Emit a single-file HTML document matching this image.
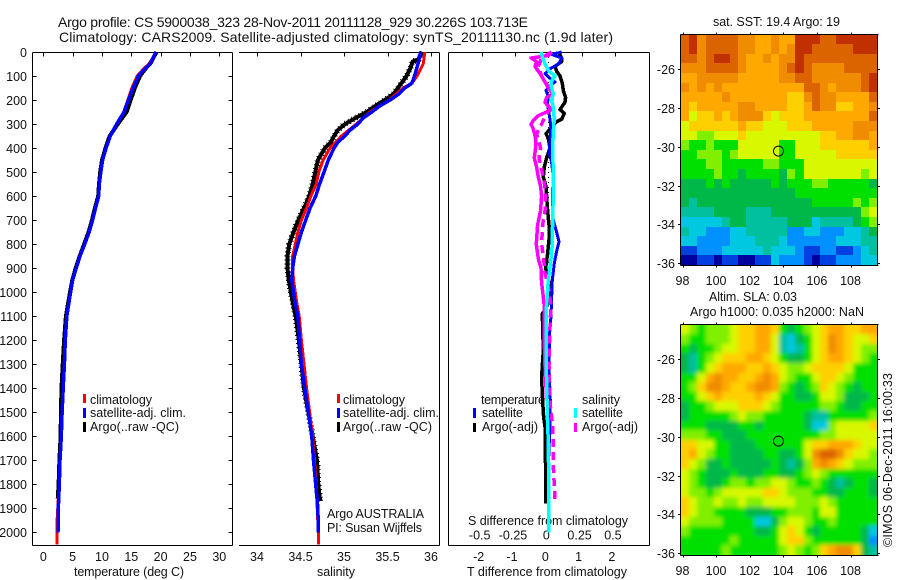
<!DOCTYPE html>
<html>
<head>
<meta charset="utf-8">
<title>Argo profile</title>
<style>
html,body{margin:0;padding:0;background:#fff;}
svg{display:block;}
text{font-family:"Liberation Sans",sans-serif;font-size:12.5px;fill:#111;}
</style>
</head>
<body>
<svg id="fig" xmlns="http://www.w3.org/2000/svg" width="900" height="580" viewBox="0 0 900 580">
<defs>
<filter id="smooth" filterUnits="userSpaceOnUse" x="660" y="300" width="240" height="280"><feGaussianBlur stdDeviation="2.2"/></filter>
<clipPath id="clip-sst"><rect x="681" y="35" width="196" height="230"/></clipPath>
<clipPath id="clip-sla"><rect x="681" y="325" width="196" height="230"/></clipPath>
</defs>
<rect x="0" y="0" width="900" height="580" fill="#fff"/>
<text x="58" y="27" font-size="14" style="font-size:14px" textLength="470">Argo profile: CS 5900038_323 28-Nov-2011 20111128_929 30.226S 103.713E</text>
<text x="59" y="42" style="font-size:14px" textLength="554">Climatology: CARS2009. Satellite-adjusted climatology: synTS_20111130.nc (1.9d later)</text>

<g>
<rect x="83" y="394" width="3" height="9" fill="#ff0000"/>
<rect x="83" y="408" width="3" height="10" fill="#0000ff"/>
<rect x="83" y="422" width="3" height="10" fill="#000"/>
<text x="90" y="404" textLength="62">climatology</text>
<text x="90" y="417" textLength="96">satellite-adj. clim.</text>
<text x="90" y="431" textLength="89">Argo(..raw -QC)</text>
</g>
<g>
<rect x="337" y="394" width="3" height="9" fill="#ff0000"/>
<rect x="337" y="408" width="3" height="10" fill="#0000ff"/>
<rect x="337" y="422" width="3" height="10" fill="#000"/>
<text x="343" y="404" textLength="62">climatology</text>
<text x="343" y="417" textLength="96">satellite-adj. clim.</text>
<text x="343" y="431" textLength="89">Argo(..raw -QC)</text>
<text x="327" y="518" textLength="97">Argo AUSTRALIA</text>
<text x="327" y="532" textLength="95">PI: Susan Wijffels</text>
</g>
<g>
<text x="481" y="404" textLength="64">temperature</text>
<rect x="473" y="408" width="3" height="10" fill="#0000ff"/>
<rect x="473" y="423" width="3" height="9" fill="#000"/>
<text x="482" y="417" textLength="41">satellite</text>
<text x="482" y="431" textLength="56">Argo(-adj)</text>
<text x="582" y="404" textLength="38">salinity</text>
<rect x="574" y="408" width="3" height="10" fill="#00ffff"/>
<rect x="574" y="423" width="3" height="9" fill="#ff00ff"/>
<text x="582" y="417" textLength="41">satellite</text>
<text x="582" y="431" textLength="56">Argo(-adj)</text>
<text x="468" y="525" textLength="160">S difference from climatology</text>
</g>
<text x="74" y="576" textLength="110">temperature (deg C)</text>
<text x="317" y="576" textLength="38">salinity</text>
<text x="467" y="576" textLength="160">T difference from climatology</text>
<text x="713" y="26" textLength="127">sat. SST: 19.4 Argo: 19</text>
<text x="709" y="301" textLength="88">Altim. SLA: 0.03</text>
<text x="690" y="316" textLength="174">Argo h1000: 0.035 h2000: NaN</text>
<text transform="translate(892,547) rotate(-90)" textLength="174">©IMOS 06-Dec-2011 16:00:33</text>
<g id="plot"></g>
</svg>
<script>
// ---- chart data ----
const depthTicks = [0,100,200,300,400,500,600,700,800,900,1000,1100,1200,1300,1400,1500,1600,1700,1800,1900,2000];
const tempTicks = [0,5,10,15,20,25,30];
const salTicks = [34,34.5,35,35.5,36];
const tDiffTicks = [-2,-1,0,1,2];
const sDiffTicks = [-0.5,-0.25,0,0.25,0.5];
const lonTicks = [98,100,102,104,106,108];
const latTicks = [26,28,30,32,34,36];

const tempDepths = [0,50,70,100,150,200,250,300,350,400,450,500,550,600,650,700,750,800,850,900,950,1000,1100,1200,1300,1400,1500,1600,1700,1800,1900,2000];
const tempSatellite = [19.2,18.2,17.3,16.2,15.3,14.5,13.75,12.5,11.4,10.7,10.1,9.8,9.55,9.45,8.9,8.4,7.8,7.05,6.25,5.6,5.0,4.65,4.0,3.75,3.6,3.4,3.2,3.07,2.85,2.73,2.56,2.5];
const climDepthsT = [0,50,70,100,150,200,250,300,350,400,450,500,600,700,750,800,900,1000,1100,1200,1400,1600,1800,1950,2050];
const tempClim = [19.3,18.0,17.1,16.0,15.1,14.4,13.7,12.5,11.3,10.6,10.0,9.7,9.4,8.3,7.7,6.95,5.5,4.6,4.0,3.7,3.35,3.0,2.7,2.35,2.35];
const argoDepthsT = [0,50,70,100,150,200,250,300,350,400,450,500,550,600,650,700,750,800,850,900,950,1000,1100,1200,1300,1400,1500,1600,1700,1800,1860];
const tempArgo = [19.3,18.2,17.4,16.5,15.6,14.9,14.2,12.7,11.3,10.6,10.0,9.7,9.5,9.35,8.8,8.3,7.7,6.95,6.2,5.5,4.95,4.55,3.85,3.55,3.3,3.1,3.0,2.95,2.75,2.6,2.45];

const salDepths = [0,50,100,130,150,175,200,225,250,275,300,325,350,375,400,450,500,550,600,650,700,750,800,850,900,950,1000,1050,1100,1200,1300,1400,1500,1600,1700,1800,1900,2000];
const salSatellite = [35.88,35.85,35.81,35.78,35.70,35.63,35.53,35.41,35.32,35.22,35.16,35.07,35.01,34.93,34.885,34.82,34.77,34.72,34.675,34.61,34.56,34.51,34.47,34.43,34.41,34.40,34.42,34.44,34.47,34.49,34.51,34.55,34.59,34.63,34.65,34.675,34.70,34.705];
const climDepthsS = [0,50,100,130,150,200,250,300,350,400,450,500,550,600,650,700,750,800,850,900,950,1000,1050,1100,1200,1400,1600,1800,2000,2050];
const salClim = [35.93,35.91,35.84,35.78,35.68,35.52,35.30,35.14,34.97,34.84,34.76,34.71,34.68,34.62,34.57,34.51,34.47,34.44,34.41,34.41,34.42,34.44,34.46,34.485,34.51,34.57,34.64,34.68,34.705,34.705];
const argoDepthsS = [0,30,40,70,100,130,150,175,200,225,250,275,300,325,350,375,400,450,500,550,600,650,700,750,800,850,900,950,1000,1050,1100,1200,1300,1400,1500,1600,1700,1800,1850,1870];
const salArgo = [35.90,35.86,35.79,35.76,35.72,35.66,35.62,35.57,35.47,35.36,35.26,35.13,35.01,34.93,34.885,34.85,34.78,34.70,34.67,34.64,34.60,34.54,34.475,34.42,34.37,34.35,34.35,34.365,34.39,34.415,34.445,34.48,34.51,34.54,34.59,34.64,34.69,34.705,34.72,34.73];

const dTSatDepths = [0,10,25,40,50,70,90,110,125,140,160,185,210,240,280,320,370,420,460,520,600,700,750,790,830,880,950,1030,1100,1171,1312,1450,1546,1700,2000];
const dTSat = [0.40,0.10,0.40,0.35,0.30,0.05,-0.10,0.05,0.20,0.05,-0.07,0,-0.02,0,0.05,0.08,0.05,0.03,0.10,0.15,0.12,0.15,0.25,0.32,0.25,0.18,0.12,0.10,0.08,0.04,0.02,0.06,0.05,0.01,0];
const dTArgoDepths = [0,25,40,60,80,100,130,160,190,210,240,255,280,290,310,340,360,400,440,480,520,560,600,660,720,780,840,900,960,1030,1080,1089,1242,1353,1450,1520,1560,1630,1725,1880];
const dTArgo = [0.30,0.40,0.40,0.20,0.25,0.35,0.42,0.45,0.52,0.50,0.35,0.48,0.40,0.25,0.12,-0.07,0,0.05,-0.05,-0.12,-0.15,-0.07,-0.05,-0.02,0.02,0.02,-0.02,-0.08,0.03,0.05,-0.12,-0.18,-0.15,-0.20,-0.17,-0.14,-0.10,-0.10,-0.08,-0.08];
const dSSatDepths = [0,20,50,80,100,125,150,175,200,230,280,330,400,500,600,700,800,860,950,1050,1100,1171,1312,1450,1590,1730,1880,2000];
const dSSat = [-0.055,-0.045,-0.025,0.005,0.05,0.02,0.025,0.0375,0.025,0.0375,0.045,0.0375,0.0325,0.0375,0.0375,0.0325,0.03,0.02,0,-0.0125,-0.0175,-0.0175,-0.015,-0.01,-0.0025,0.0025,0.0025,0.0025];
const dSRawDepths = [0,15,25,40,60,90,120,150,175,190,210,240,250,265,280,300,320,360,400,440,480,520,560,600,660,720,800,860,900,960,1020,1060,1171,1306,1450];
const dSRaw = [0.025,0,-0.13,-0.0875,-0.1,-0.0625,-0.03,0,0.0375,-0.0125,-0.025,0.025,-0.0125,-0.075,-0.105,-0.13,-0.1125,-0.095,-0.095,-0.105,-0.0875,-0.075,-0.0575,-0.05,-0.0575,-0.08,-0.09,-0.075,-0.055,-0.05,-0.0375,-0.03,-0.0325,-0.025,-0.0125];
const dSAdjDepths = [0,25,60,100,150,190,230,270,300,340,400,440,490,540,600,660,720,800,860,920,1000,1060,1110,1194,1306,1472,1542,1611,1722,1806,1861];
const dSAdj = [0.025,-0.05,-0.075,-0.05,0.005,0.03,0.02,-0.025,-0.05,-0.0875,-0.0575,-0.07,-0.05,-0.03,-0.02,-0.025,-0.0425,-0.05,-0.035,-0.025,0.0075,0.02,0.015,0.01,0.005,0.015,0.03,0.0375,0.0375,0.045,0.05];

const argoLon = [103.713];
const argoLat = [30.226];

// colour-bin levels, half-degree cells, north to south
const sstLevels = [
[12,13,11,12,12,12,12,11,11,10,10,11,10,10,13,13,13,12,12,13,13,13,13,13],
[12,13,11,12,12,12,12,11,11,10,10,11,10,11,13,13,12,12,12,12,12,13,13,13],
[12,12,11,12,13,13,12,11,10,10,11,10,11,11,13,12,12,12,12,12,12,12,12,12],
[11,11,11,12,12,12,12,11,10,10,10,10,11,12,13,12,11,11,11,11,12,12,12,12],
[10,10,11,11,11,11,11,10,10,10,10,10,11,11,12,12,11,11,11,11,11,11,12,13],
[11,10,11,10,11,10,10,10,10,10,10,10,10,10,10,12,12,11,10,11,11,11,12,13],
[10,10,10,10,10,11,10,10,10,10,10,10,10,9,9,11,12,11,11,10,10,10,10,12],
[10,9,10,10,10,10,10,11,11,10,10,10,10,9,9,10,12,11,11,9,9,10,10,11],
[10,8,9,9,10,9,10,11,11,11,9,8,9,9,9,10,10,10,10,10,10,10,10,12],
[8,9,9,9,9,9,9,10,9,9,8,8,8,9,9,9,10,10,10,10,10,11,11,11],
[8,8,7,7,8,8,8,9,8,8,8,8,8,8,8,8,8,9,9,10,10,11,11,10],
[7,6,6,7,6,6,6,8,8,8,8,8,6,6,8,8,8,9,9,9,9,9,9,10],
[6,6,7,7,7,6,7,8,8,8,8,8,6,6,8,8,8,8,8,9,9,9,9,9],
[6,6,6,7,7,6,6,6,6,6,7,7,6,6,6,8,8,8,8,8,8,8,8,8],
[6,6,6,6,7,6,6,5,6,6,6,6,5,7,6,8,8,8,8,8,8,8,7,8],
[5,5,5,6,5,6,5,5,5,5,5,6,5,6,6,6,7,7,6,6,6,6,6,5],
[5,5,5,5,5,5,5,5,5,5,5,5,5,5,6,6,6,6,6,6,6,6,6,6],
[5,4,5,5,5,5,5,5,5,5,5,5,5,5,5,5,6,6,6,6,6,7,6,7],
[4,4,4,4,5,5,5,5,4,4,4,5,5,5,5,5,5,5,5,5,5,5,7,8],
[3,3,3,3,3,4,5,5,4,4,4,4,4,5,5,5,3,4,4,4,4,5,6,7],
[4,3,3,2,2,2,3,3,4,4,4,4,4,2,2,3,3,2,2,2,3,3,4,5],
[3,3,2,2,2,2,3,3,3,4,4,4,3,2,2,2,2,2,2,3,3,3,4,4],
[1,1,2,2,2,3,3,3,3,3,4,3,3,3,2,1,1,2,2,1,1,2,3,4],
[0,0,1,1,0,1,1,0,0,1,1,3,2,2,2,1,0,1,1,2,2,2,3,3]
];
const slaLevels = [
[8,7,6,7,7,7,8,9,9,10,10,9,6,5,6,7,8,9,10,10,9,9,10,10],
[7,6,6,7,7,7,8,9,9,10,10,8,4,3,5,6,8,9,11,10,9,8,8,9],
[6,5,6,6,7,8,8,9,9,10,10,8,4,3,4,6,8,9,11,10,9,8,7,7],
[5,4,6,7,8,9,9,9,10,10,9,8,6,5,5,6,8,9,10,10,9,8,7,6],
[5,4,6,8,9,10,10,10,9,9,10,9,8,7,7,8,9,9,9,9,8,6,6,6],
[6,6,8,10,11,10,10,9,9,10,11,10,8,7,6,6,8,9,9,8,7,6,6,6],
[6,7,9,11,11,10,9,9,10,11,11,10,7,6,5,6,7,9,8,7,6,5,6,6],
[6,6,8,9,10,9,9,9,9,10,9,8,6,6,5,5,6,8,8,7,5,5,5,6],
[5,6,6,7,8,8,8,9,9,9,8,7,6,6,6,6,6,7,7,6,5,5,6,6],
[5,6,6,6,6,6,7,8,7,7,6,6,6,6,6,5,4,4,6,6,6,6,6,7],
[6,6,6,5,5,5,5,6,6,5,6,6,6,6,6,5,3,3,7,8,8,8,8,9],
[7,7,7,6,6,5,5,5,6,6,6,6,6,6,6,6,6,7,7,8,8,8,8,8],
[9,9,8,8,6,6,5,5,5,6,6,6,6,6,6,8,9,9,10,10,10,9,8,8],
[9,10,8,7,6,6,5,5,5,5,6,6,5,5,6,8,11,12,12,11,9,8,8,7],
[9,8,7,5,5,6,5,5,5,5,5,6,5,4,5,7,10,11,10,9,8,7,7,7],
[8,7,6,5,5,5,6,5,5,5,6,6,5,5,6,7,8,7,6,6,6,6,6,6],
[8,7,6,5,5,6,7,7,6,7,7,8,8,7,6,6,7,6,5,4,5,6,6,5],
[8,7,7,6,7,8,8,8,8,8,9,9,8,7,7,7,6,6,5,5,6,6,6,5],
[9,8,7,7,8,7,7,8,7,7,8,8,8,8,7,7,7,8,7,6,6,6,6,6],
[9,8,7,7,6,6,6,6,5,5,5,6,6,7,7,7,6,8,8,6,6,6,6,6],
[8,7,7,7,7,6,6,6,6,3,3,5,7,8,8,7,6,6,7,6,6,6,6,6],
[7,6,6,6,6,6,6,6,6,5,5,6,8,9,8,6,5,6,6,6,6,6,5,3],
[6,6,6,6,6,6,7,6,6,6,6,6,8,9,9,7,6,6,6,6,6,6,5,2],
[6,6,6,6,6,7,6,6,6,6,6,6,7,8,7,6,7,9,10,11,11,9,5,4]
];

// ---- drawing ----
const NS = 'http://www.w3.org/2000/svg';
const plot = document.getElementById('plot');
const palette = ['#00009c','#0040e0','#0090ff','#00c8e0','#00c0a0','#00b848','#00e000','#80f000','#d8f800','#ffd000','#ffa800','#f08c00','#dc6400','#c03000'];
function mk(tag, attrs, parent) {
  const el = document.createElementNS(NS, tag);
  for (const k in attrs) el.setAttribute(k, attrs[k]);
  (parent || plot).appendChild(el);
  return el;
}
const yDepth = d => 52 + d * 0.2402;
const xTemp = t => 43.3 + t * 5.867;
const xSal = s => 257 + (s - 34) * 87;
const xDT = t => 548.3 + t * 33.3;
const xDS = s => 548.3 + s * 133.2;
function seg(x1, y1, x2, y2, group, stroke) {
  const l = mk('line', {x1: x1, y1: y1, x2: x2, y2: y2, stroke: stroke || '#000', 'stroke-width': 1, 'shape-rendering': 'crispEdges'}, group);
  return l;
}
function curve(name, depths, values, xFn, color, width, dash) {
  const pts = depths.map((d, i) => xFn(values[i]).toFixed(1) + ',' + yDepth(d).toFixed(1)).join(' ');
  const attrs = {points: pts, fill: 'none', stroke: color, 'stroke-width': width, 'stroke-linejoin': 'round', 'shape-rendering': 'crispEdges'};
  if (dash) attrs['stroke-dasharray'] = dash;
  const p = mk('polyline', attrs);
  
  
  return p;
}

// --- panel frames ---
const frames = mk('g', {});


seg(32.5, 52.5, 232.5, 52.5, frames); seg(32.5, 545.5, 232.5, 545.5, frames);
seg(32.5, 52.5, 32.5, 545.5, frames); seg(232.5, 52.5, 232.5, 545.5, frames);
seg(239, 52.5, 439.5, 52.5, frames); seg(239, 545.5, 439.5, 545.5, frames); seg(439.5, 52.5, 439.5, 545.5, frames);
seg(448.5, 52.5, 649.5, 52.5, frames); seg(448.5, 545.5, 649.5, 545.5, frames);
seg(448.5, 52.5, 448.5, 545.5, frames); seg(649.5, 52.5, 649.5, 545.5, frames);

function label(txt, x, y, anchor, name) {
  const t = mk('text', {x: x, y: y, 'text-anchor': anchor});
  t.textContent = txt;
  
  
  return t;
}
depthTicks.forEach(d => {
  const y = Math.round(yDepth(d)) + 0.5;
  seg(32.5, y, 36.5, y, frames);
  seg(228.5, y, 232.5, y, frames);
  label(String(d), 27, y + 4.5, 'end', 'depth-tick-label');
});
tempTicks.forEach(v => {
  const x = Math.round(xTemp(v)) + 0.5;
  seg(x, 52.5, x, 56.5, frames);
  label(String(v), xTemp(v), 561, 'middle', 'temperature-tick-label');
});
salTicks.forEach(v => {
  const x = Math.round(xSal(v)) + 0.5;
  seg(x, 52.5, x, 56.5, frames);
  label(String(v), xSal(v), 561, 'middle', 'salinity-tick-label');
});
tDiffTicks.forEach(v => {
  const x = Math.round(xDT(v)) + 0.5;
  seg(x, 52.5, x, 56.5, frames);
  label(String(v), xDT(v) - 3, 561, 'middle', 't-difference-tick-label');
});
sDiffTicks.forEach(v => {
  label(String(v), xDS(v) - 2, 539.5, 'middle', 's-difference-tick-label');
});

// --- temperature panel ---
curve('temperature-climatology-line', climDepthsT, tempClim, xTemp, '#ff0000', 3);
curve('temperature-argo-line', argoDepthsT, tempArgo, xTemp, '#000000', 4);
curve('temperature-satellite-line', tempDepths, tempSatellite, xTemp, '#0000ff', 3.5);

// --- salinity panel ---
curve('salinity-argo-line', argoDepthsS, salArgo, xSal, '#000000', 4);
curve('salinity-argo-qc-ticks', argoDepthsS, salArgo, xSal, '#000000', 6, '1 3');
curve('salinity-climatology-line', climDepthsS, salClim, xSal, '#ff0000', 3);
curve('salinity-satellite-line', salDepths, salSatellite, xSal, '#0000ff', 3.5);

// --- difference panel ---
const zero = mk('line', {x1: xDT(0), y1: yDepth(0), x2: xDT(0), y2: yDepth(1000), stroke: '#000', 'stroke-width': 1, 'stroke-dasharray': '1 4', 'shape-rendering': 'crispEdges'});


curve('t-difference-argo-line', dTArgoDepths, dTArgo, xDT, '#000000', 3.5);
curve('t-difference-satellite-line', dTSatDepths, dTSat, xDT, '#0000ff', 3);
curve('s-difference-argo-raw-line', dSRawDepths, dSRaw, xDS, '#ff00ff', 3.5);
curve('s-difference-argo-adj-line', dSAdjDepths, dSAdj, xDS, '#ff00ff', 3.5, '8 5');
curve('s-difference-satellite-line', dSSatDepths, dSSat, xDS, '#00ffff', 3.5);

// --- maps ---
function colorScale(v) {
  const i = Math.max(0, Math.min(palette.length - 1, Math.round(v)));
  return palette[i];
}
function drawMap(levels, top, name, clipId, smooth) {
  const g = mk('g', {});
  
  
  const left = 681, right = 877, height = 230.3;
  const xLon = lon => 682.5 + (lon - 98) * 16.8;
  const yLat = lat => top + 34.3 + (lat - 26) * 19.43;
  const nr = levels.length;
  const clipped = mk('g', {'clip-path': 'url(#' + clipId + ')'}, g);
  const cells = mk('g', smooth ? {filter: 'url(#smooth)'} : {}, clipped);
  levels.forEach((row, r) => {
    const nc = row.length;
    row.forEach((v, c) => {
      let x0 = Math.round(left + c * (right - left) / nc);
      let x1 = Math.round(left + (c + 1) * (right - left) / nc);
      let y0 = Math.round(top + r * height / nr);
      let y1 = Math.round(top + (r + 1) * height / nr);
      if (c === 0) x0 -= 10;
      if (c === nc - 1) x1 += 10;
      if (r === 0) y0 -= 10;
      if (r === nr - 1) y1 += 10;
      const cell = mk('rect', {x: x0, y: y0, width: x1 - x0, height: y1 - y0, fill: colorScale(v)}, cells);
      
      
    });
  });
  const ft = Math.round(top) - 0.5, fb = Math.round(top + height) + 0.5;
  seg(680.5, ft, 878.5, ft, g); seg(680.5, fb, 878.5, fb, g);
  seg(680.5, ft, 680.5, fb, g); seg(877.5, ft, 877.5, fb, g);
  lonTicks.forEach(v => {
    const x = Math.round(xLon(v)) + 0.5;
    seg(x, ft - 2, x, ft, g);
    seg(x, fb, x, fb + 2, g);
    label(String(v), xLon(v), top + 250.5, 'middle', 'longitude-tick-label');
  });
  latTicks.forEach(v => {
    const y = Math.round(yLat(v)) + 0.5;
    seg(678, y, 680.5, y, g);
    seg(877.5, y, 880, y, g);
    label('-' + v, 675, y + 4.5, 'end', 'latitude-tick-label');
  });
  const c = mk('circle', {cx: xLon(argoLon[0]), cy: yLat(argoLat[0]), r: 5, fill: 'none', stroke: '#000', 'stroke-width': 1}, g);
  
  
}
drawMap(sstLevels, 34.7, 'sst-map', 'clip-sst', false);
drawMap(slaLevels, 324.7, 'sla-map', 'clip-sla', true);
</script>
</body>
</html>
